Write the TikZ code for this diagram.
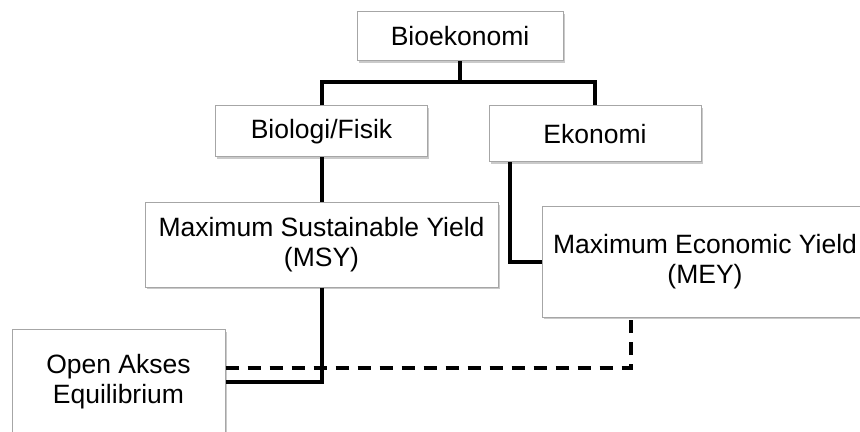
\documentclass[tikz,border=0pt]{standalone}
\usepackage{fontspec}
\setmainfont{Liberation Sans}
\usetikzlibrary{calc,shadows}

\tikzset{
    boxnode/.style={draw=black!35, line width=0.5pt, fill=white, align=center, inner sep=0pt,
        drop shadow={shadow xshift=0.8pt, shadow yshift=-1.2pt, opacity=0.35, fill=black!60},
        font=\fontsize{13.25pt}{15pt}\selectfont},
    link/.style={line width=2pt},
}

\begin{document}
\begin{tikzpicture}[x=0.5pt, y=-0.5pt]
    \useasboundingbox (0,0) rectangle (860,432);
    \clip (0,0) rectangle (860,432);

    \node [boxnode, minimum width=103pt, minimum height=24.5pt] (bio) at (460, 36.5) {Bioekonomi};
        \coordinate (split) at (460, 82);
        \node [boxnode, minimum width=106pt, minimum height=25.5pt] (fisik) at (321.5, 131.5) {Biologi/Fisik};
            \node [boxnode, minimum width=176.5pt, minimum height=42pt] (msy) at (321.5, 245) {Maximum Sustainable Yield\\(MSY)};
        \node [boxnode, minimum width=106pt, minimum height=28pt] (eko) at (595, 134) {Ekonomi};
            \node [boxnode, minimum width=163pt, minimum height=55pt] (mey) at (705, 262) {Maximum Economic Yield\\(MEY)};
    \node [boxnode, minimum width=106.5pt, minimum height=52.5pt] (oae) at (118.5, 382) {Open Akses\\Equilibrium};

    \draw [link] (bio.south) -- (split);
    \draw [link] (fisik.north) |- (split) -| (eko.north);
        \draw [link] (fisik.south) -- (msy.north);
        \draw [link] ($(eko.south west)+(21,0)$) |- (mey.west);
    \draw [link] (msy.south) |- (oae.east);
    \draw [link, dash pattern=on 6.5pt off 4.5pt] ($(oae.east)+(0,-14)$) -| ($(mey.south west)+(89,0)$);
\end{tikzpicture}
\end{document}
